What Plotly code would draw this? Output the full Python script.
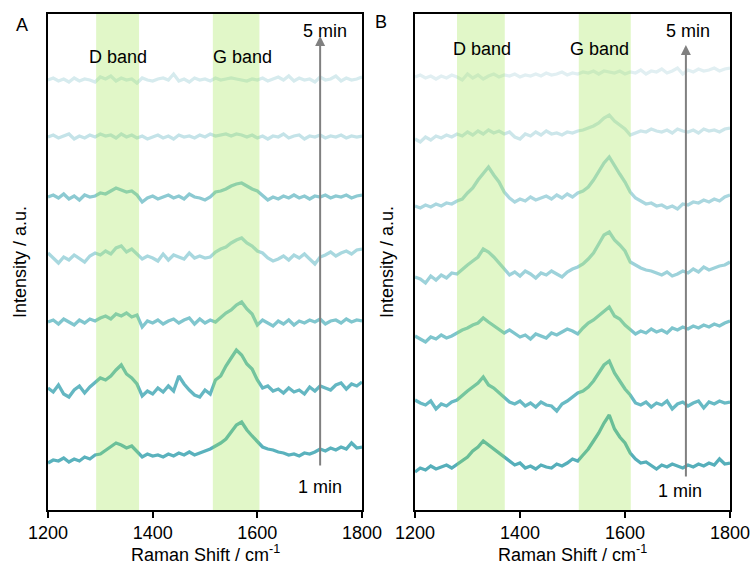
## Raman spectra over time, two panels (A, B), D and G bands shaded

import plotly.graph_objects as go

shift = list(range(1200, 1801, 10))  # cm-1

# panel A, 1 min (bottom) -> 5 min (top), intensity in a.u.
a_1min = [0, 3, 2, 5, 1, 4, 2, 6, 4, 8, 9, 13, 17, 20, 18, 15, 17, 12, 6, 9, 7, 8, 6, 9, 7, 10, 8, 11, 8, 10,
          12, 14, 17, 20, 24, 31, 38, 41, 33, 27, 22, 16, 14, 13, 11, 10, 8, 9, 7, 10, 9, 11, 14, 12, 15, 13, 16, 14, 20, 15, 16]
a_2 = [0, -4, 3, -6, -9, -2, 2, -5, 1, 6, 10, 8, 12, 18, 23, 14, 10, 4, -8, -3, -6, 0, -4, 2, -3, 12, 4, -2, -7, -9,
       -2, -6, 8, 12, 22, 30, 38, 33, 24, 19, 8, 0, 2, -3, -1, -5, 0, -4, -2, -6, 1, -3, 2, 0, -2, 3, 5, -1, 4, 2, 6]
a_3 = [0, 2, -2, 3, 0, -3, 2, -1, 3, 1, 4, 6, 3, 8, 6, 9, 5, 7, -5, 1, -1, 2, -2, 1, 3, -1, 2, 4, -2, 3,
       -1, 2, 0, 5, 9, 12, 17, 20, 13, 8, -3, 2, -1, -4, 1, -2, 2, -3, 1, -1, 2, 0, 3, -2, 1, 2, -1, 3, 0, 2, 1]
a_4 = [2, -3, -8, -2, -5, 0, -4, -7, -1, 2, 0, 4, 1, 7, 9, 3, 6, 1, -4, -1, -3, -6, 1, -5, 0, -2, -4, 2, -3, -1,
       -3, -2, 3, 6, 8, 12, 15, 17, 12, 9, 4, 2, -3, -6, -4, -1, -5, 0, -3, 1, -4, -9, -2, 0, 3, -1, 2, 4, 1, 5, 6]
a_5 = [0, 2, -1, 3, -2, 1, -3, 2, 0, 1, 4, 3, 6, 9, 7, 5, 6, 2, -5, -1, 1, -2, 0, 2, -1, 1, -2, 3, 0, -1,
       -3, 0, 5, 6, 8, 11, 13, 14, 11, 8, 6, 2, -3, 0, -2, 1, -1, 2, -1, 1, -2, 1, 0, 2, -1, 1, 0, 2, -1, 1, 2]
a_6 = [0, 2, -1, 1, 3, -2, 1, -1, 2, 0, 3, 1, 2, -1, 3, 0, 2, -1, 1, -2, 0, 2, -1, 1, -2, 2, 0, 1, -1, 2,
       0, 3, 1, 2, 3, 1, 3, 2, 0, 2, -1, 1, -2, 1, 0, 3, -1, 1, 2, -2, 1, 0, 2, -1, 1, 0, 2, -1, 1, 0, 1]
a_5min = [0, 2, -1, 1, -2, 2, -1, 1, 0, -2, 3, 1, 4, -1, 2, 0, 1, -3, 2, 0, -1, 1, 2, 0, 6, -1, 1, -2, 2, 0,
          1, -1, 2, 0, 1, 2, 1, 0, -1, 1, 0, 2, -1, 1, 3, 0, 4, -1, 2, 0, 1, -2, 3, 0, 1, 4, -1, 2, 0, 1, 3]

# panel B, 1 min (bottom) -> 5 min (top)
b_1min = [-5, -1, -3, 1, -2, 0, 2, -1, 3, 6, 10, 16, 20, 26, 22, 18, 14, 10, 6, 2, 4, -1, 1, -2, 2, 0, -1, 3, 1, 4,
          8, 6, 12, 18, 26, 34, 44, 52, 38, 30, 24, 14, 8, 4, 5, 1, -2, 2, 0, 3, 1, -1, 2, 0, 3, 1, 4, 2, 8, 3, 4]
b_2 = [3, 0, -2, 2, -6, -1, -3, 1, 3, 8, 12, 16, 20, 26, 18, 15, 10, 6, 1, -1, 2, -3, 0, -4, 1, -2, -3, -8, -1, 2,
       6, 10, 12, 16, 22, 30, 38, 42, 30, 22, 14, 8, 0, -2, 1, -4, 0, -2, 2, -6, -1, 1, -3, 0, 2, -5, 1, -1, 2, 0, 1]
b_3 = [0, -3, -6, -1, -3, 1, -2, 0, 3, 6, 8, 11, 13, 18, 14, 10, 7, 3, 6, 2, -1, 1, -3, 2, 0, -2, 3, 1, 4, 7,
       5, 2, 8, 13, 16, 20, 25, 29, 20, 17, 11, 6, 2, 5, 3, 7, 4, 6, 3, 8, 6, 9, 7, 10, 8, 11, 9, 12, 10, 13, 15]
b_4 = [0, -2, -6, 1, -3, 2, -1, 4, 3, 8, 12, 16, 20, 28, 25, 20, 14, 9, 2, 5, 1, 6, 3, -1, 4, 2, 6, 3, 0, 5,
       8, 10, 13, 18, 24, 33, 42, 45, 37, 32, 26, 15, 12, 9, 7, 6, 4, 2, 5, 1, 3, 6, 4, 8, 5, 10, 7, 9, 11, 12, 15]
b_5 = [0, -2, 1, -1, 2, 0, 3, 2, 5, 7, 13, 18, 26, 33, 39, 31, 24, 14, 8, 4, 7, 5, 9, 6, 8, 10, 7, 11, 8, 12,
       9, 13, 15, 19, 26, 35, 43, 49, 40, 32, 24, 14, 8, 5, 2, 3, 0, 1, -2, 0, -3, 2, 1, 4, 3, 6, 4, 7, 5, 9, 11]
b_6 = [-1, -4, 1, -2, 2, 0, 3, 1, 4, 2, 6, 3, 7, 4, 8, 5, 7, 4, 6, 1, -1, 4, 2, 6, 3, 7, 4, 5, 3, 6,
       5, 7, 8, 10, 12, 15, 20, 23, 17, 13, 9, 3, 5, 7, 6, 9, 7, 6, 8, 5, 9, 7, 6, 8, 5, 9, 7, 8, 6, 9, 10]
b_5min = [0, 2, -1, 1, -2, 1, -1, 2, 0, -3, 3, -1, 2, -2, 1, 3, 0, 2, 1, 3, 0, 2, 1, 3, 1, 4, 2, 3, 5, 2,
          4, 3, 5, 4, 6, 3, 6, 5, 4, 6, 3, 5, 4, 7, 3, 6, 5, 8, 4, 6, 9, 3, 7, 5, 8, 6, 7, 9, 6, 8, 9]

spectra_a = [a_1min, a_2, a_3, a_4, a_5, a_6, a_5min]
spectra_b = [b_1min, b_2, b_3, b_4, b_5, b_6, b_5min]

d_band_a, g_band_a = (1292, 1374), (1515, 1604)
d_band_b, g_band_b = (1280, 1371), (1512, 1611)

# stacking offsets (bottom -> top)
offsets_a = [47, 122, 188, 255, 313, 373, 430]
offsets_b = [43, 107, 174, 233, 304, 372, 433]
colors_a = ["#5AB2BD", "#64B7C2", "#80C6CE", "#A8D8DF", "#8CCAD2", "#C4E3E8", "#D6EBEE"]
colors_b = ["#56AFBA", "#68BAC4", "#7EC5CD", "#9DD2DA", "#AAD7DF", "#CCE6EA", "#E1EFF2"]

FONT = "Liberation Sans, Arial, sans-serif"
W, H = 750, 570
T, B = 14, 60
PH = H - T - B  # plot height in px


def px(xp):
    return xp / W


def py(yp):
    return (H - B - yp) / PH


fig = go.Figure()

for spec, off, col in zip(spectra_a, offsets_a, colors_a):
    fig.add_trace(go.Scatter(x=shift, y=[v + off for v in spec], mode="lines",
                             line=dict(color=col, width=3.3), showlegend=False, xaxis="x", yaxis="y"))
for spec, off, col in zip(spectra_b, offsets_b, colors_b):
    fig.add_trace(go.Scatter(x=shift, y=[v + off for v in spec], mode="lines",
                             line=dict(color=col, width=3.3), showlegend=False, xaxis="x2", yaxis="y2"))

# shaded bands, drawn over the lines
for (x0, x1), xr, yr in [(d_band_a, "x", "y domain"), (g_band_a, "x", "y domain"),
                         (d_band_b, "x2", "y2 domain"), (g_band_b, "x2", "y2 domain")]:
    fig.add_shape(type="rect", xref=xr, yref=yr, x0=x0, x1=x1, y0=0, y1=1,
                  fillcolor="#98E441", opacity=0.29, line_width=0, layer="above")

axis_common = dict(showline=True, linecolor="black", linewidth=1.5, mirror=True,
                   showgrid=False, zeroline=False, automargin=False)
xticks = dict(range=[1200, 1800], tickvals=[1200, 1400, 1600, 1800], ticks="outside",
              ticklen=6, tickwidth=1.5, tickcolor="black", ticklabeloverflow="allow")

fig.update_layout(
    width=W, height=H,
    margin=dict(l=0, r=0, t=T, b=B, autoexpand=False),
    paper_bgcolor="white", plot_bgcolor="white",
    font=dict(family=FONT, size=18, color="black"),
    xaxis=dict(domain=[px(48), px(362)], anchor="y", **xticks, **axis_common),
    xaxis2=dict(domain=[px(415), px(730)], anchor="y2", **xticks, **axis_common),
    yaxis=dict(range=[0, PH], showticklabels=False, ticks="", anchor="x", **axis_common),
    yaxis2=dict(range=[0, PH], showticklabels=False, ticks="", anchor="x2", **axis_common),
)

ann = []
# time arrows
for xr, yr, xv, y_lo, y_hi in [("x", "y", 1720, 43, 474), ("x2", "y2", 1716, 32, 465)]:
    ann.append(dict(x=xv, y=y_hi, ax=xv, ay=y_lo, xref=xr, yref=yr, axref=xr, ayref=yr,
                    showarrow=True, arrowhead=2, arrowsize=1, arrowwidth=2, arrowcolor="#808080", text=""))

labels = [
    ("x", "y", 1730, 479, "5 min"), ("x", "y", 1720, 23, "1 min"),
    ("x", "y", 1334, 453, "D band"), ("x", "y", 1571, 453, "G band"),
    ("x2", "y2", 1720, 479, "5 min"), ("x2", "y2", 1705, 19, "1 min"),
    ("x2", "y2", 1328, 461, "D band"), ("x2", "y2", 1552, 461, "G band"),
]
for xr, yr, xv, yv, t in labels:
    ann.append(dict(x=xv, y=yv, xref=xr, yref=yr, text=t, showarrow=False,
                    xanchor="center", yanchor="middle"))

# panel letters and axis titles (positions in px)
paper_text = [
    (22, 25, "A", 0), (381, 22, "B", 0),
    (20, 262, "Intensity / a.u.", -90), (387, 262, "Intensity / a.u.", -90),
    (205, 553, "Raman Shift / cm<sup>-1</sup>", 0), (572, 553, "Raman Shift / cm<sup>-1</sup>", 0),
]
for xp, yp, t, ang in paper_text:
    ann.append(dict(x=px(xp), y=py(yp), xref="paper", yref="paper", text=t, textangle=ang,
                    showarrow=False, xanchor="center", yanchor="middle"))

fig.update_layout(annotations=ann)

fig.write_html("out.html", config={"displayModeBar": False},
               post_script="document.body.style.margin='0';")
